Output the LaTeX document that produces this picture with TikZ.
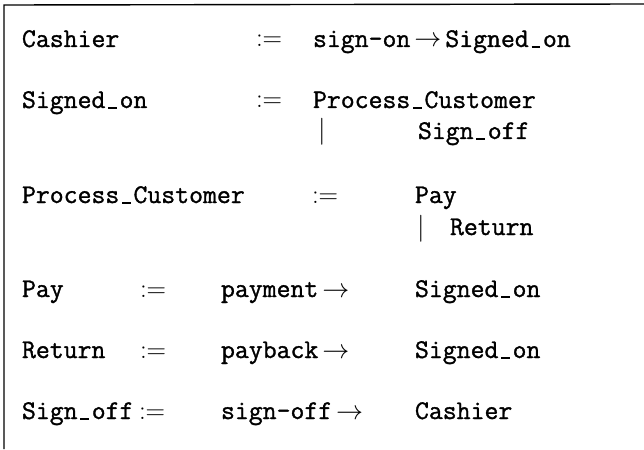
\documentclass[tikz,border=0pt]{standalone}
\usepackage{fix-cm}
\usepackage{fontspec}
% typewriter face, slightly emboldened
\newfontfamily\codefont{Latin Modern Mono}[FakeBold=1.2]
\newcommand{\arr}{\kern4pt$\rightarrow$}
% short underscore sitting on the baseline, one monospace cell wide
\newcommand{\us}{\makebox[0.525em][c]{\rule[-0.03em]{0.32em}{0.07em}}}
\begin{document}
\begin{tikzpicture}[x=1pt,y=-1pt,
  txt/.style={anchor=base west,inner sep=0pt,outer sep=0pt,
    font=\fontsize{27}{31}\selectfont\codefont},
  frameline/.style={line width=1.4pt,black}]
\useasboundingbox (0,0) rectangle (644,449);
% frame: top rule and left rule only
\coordinate (tl) at (4,5);
\coordinate (tr) at (644,4);
\coordinate (bl) at (4,449);
\draw[frameline] (tr) -- (tl) -- (bl);

% Cashier := sign-on -> Signed_on
\node[txt] (cashL) at (22,47) {Cashier};
\node[txt] (cashD) at (256,47) {$:=$};
\node[txt] (cashR) at (313,47) {sign-on\arr\kern4pt Signed\us on};

% Signed_on := Process_Customer | Sign_off
\node[txt] (sonL) at (22,108) {Signed\us on};
\node[txt] (sonD) at (256,108) {$:=$};
\node[txt] (sonR) at (313,108) {Process\us Customer};
\node[txt] (sonBar) at (318,139) {$|$};
\node[txt] (sonR2) at (418,139) {Sign\us off};

% Process_Customer := Pay | Return
\node[txt] (pcL) at (22,203) {Process\us Customer};
\node[txt] (pcD) at (312,203) {$:=$};
\node[txt] (pcR) at (415,203) {Pay};
\node[txt] (pcBar) at (417,235) {$|$};
\node[txt] (pcR2) at (450,235) {Return};

% Pay := payment -> Signed_on
\node[txt] (payL) at (22,297) {Pay};
\node[txt] (payD) at (140,297) {$:=$};
\node[txt] (payE) at (221,297) {payment\arr};
\node[txt] (payR) at (415,297) {Signed\us on};

% Return := payback -> Signed_on
\node[txt] (retL) at (22,358) {Return};
\node[txt] (retD) at (140,358) {$:=$};
\node[txt] (retE) at (221,358) {payback\arr};
\node[txt] (retR) at (415,358) {Signed\us on};

% Sign_off := sign-off -> Cashier
\node[txt] (soffL) at (22,419) {Sign\us off};
\node[txt] (soffD) at (139,419) {$:=$};
\node[txt] (soffE) at (221,419) {sign-off\arr};
\node[txt] (soffR) at (415,419) {Cashier};
\end{tikzpicture}
\end{document}
